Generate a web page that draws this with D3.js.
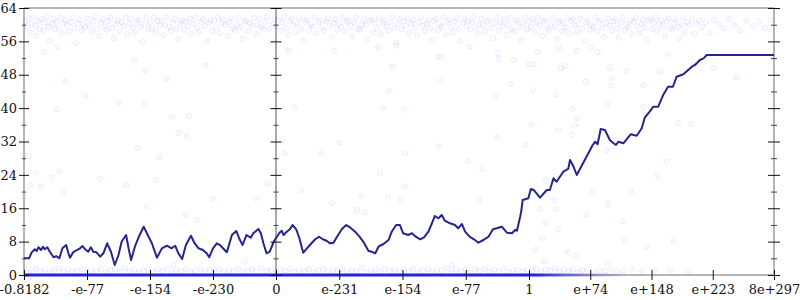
<!DOCTYPE html>
<html>
<head>
<meta charset="utf-8">
<script src="https://cdn.jsdelivr.net/npm/d3@7"></script>
<style>
  body { margin: 0; background: #fff; }
  text { font-family: "DejaVu Serif", serif; font-size: 13px; fill: #111; }
</style>
</head>
<body>
<div id="chart"></div>
<script>
// Tick positions (in tick index units) and their labels
var xTickPos = [0, 1, 2, 3, 4, 5, 6, 7, 8, 9, 10, 11, 12];
var xTickLabels = ["-0.8182", "-e-77", "-e-154", "-e-230", "0", "e-231", "e-154", "e-77", "1", "e+74", "e+148", "e+223", "8e+297"];
var yTicks = [0, 8, 16, 24, 32, 40, 48, 56, 64];
var yMinorTicks = [4, 12, 20, 28, 36, 44, 52, 60];

// The dark running line
var walkPoints = [
  [0.00,4.0],[0.03,4.0],[0.08,4.0],[0.12,5.35],[0.17,6.16],[0.20,5.75],[0.23,6.64],[0.27,5.99],[0.30,6.78],[0.33,6.16],
  [0.37,6.64],[0.41,5.58],[0.47,4.24],[0.51,4.55],[0.56,4.0],[0.61,6.4],[0.67,7.19],[0.70,5.44],[0.73,4.15],[0.78,5.44],
  [0.84,5.99],[0.89,6.4],[0.93,6.95],[0.97,6.16],[1.02,5.58],[1.06,6.64],[1.10,5.58],[1.15,5.44],[1.21,4.39],[1.26,5.2],
  [1.32,7.6],[1.38,5.58],[1.44,2.4],[1.50,4.79],[1.55,7.98],[1.62,9.59],[1.66,6.4],[1.70,3.6],[1.76,6.78],[1.83,9.42],
  [1.90,11.58],[1.97,9.42],[2.03,7.6],[2.11,4.15],[2.19,6.4],[2.27,7.02],[2.34,6.4],[2.40,7.02],[2.45,5.2],[2.51,3.84],
  [2.57,7.19],[2.65,9.42],[2.70,7.84],[2.77,6.4],[2.84,5.99],[2.90,5.2],[2.94,4.24],[3.00,6.4],[3.06,7.6],[3.11,7.19],
  [3.17,6.23],[3.22,5.44],[3.30,9.59],[3.37,10.55],[3.42,8.63],[3.47,7.19],[3.53,9.59],[3.60,8.94],[3.64,10.0],[3.72,11.03],
  [3.76,10.0],[3.80,7.6],[3.85,5.2],[3.90,5.58],[3.97,8.15],[4.05,10.0],[4.09,10.62],[4.12,9.59],[4.17,10.38],[4.22,10.95],
  [4.26,11.98],[4.32,10.95],[4.37,8.8],[4.43,5.35],[4.49,6.4],[4.55,7.43],[4.62,8.56],[4.68,9.18],[4.74,8.56],[4.80,8.22],
  [4.85,7.6],[4.91,7.74],[4.96,9.04],[5.04,10.95],[5.11,11.98],[5.17,11.43],[5.25,10.38],[5.32,9.18],[5.39,7.74],[5.46,5.82],
  [5.51,5.58],[5.57,5.2],[5.62,6.78],[5.70,7.43],[5.78,8.39],[5.83,10.38],[5.90,11.98],[5.96,11.98],[6.01,10.0],[6.09,9.59],
  [6.15,10.0],[6.21,9.18],[6.28,8.56],[6.34,9.04],[6.41,10.38],[6.46,12.22],[6.51,14.14],[6.57,13.59],[6.62,14.38],[6.67,13.02],
  [6.75,12.39],[6.83,11.98],[6.88,11.19],[6.94,12.22],[6.99,10.38],[7.06,9.18],[7.13,8.56],[7.20,7.74],[7.28,8.39],[7.36,9.18],
  [7.43,10.95],[7.49,11.19],[7.57,11.58],[7.65,10.14],[7.73,10.0],[7.78,10.79],[7.81,10.62],[7.86,13.97],[7.88,15.58],[7.90,17.98],
  [7.99,18.38],[8.03,20.61],[8.08,20.37],[8.18,18.53],[8.29,20.37],[8.34,20.37],[8.40,23.18],[8.45,22.36],[8.56,24.76],[8.64,25.41],
  [8.67,27.56],[8.72,26.2],[8.78,23.97],[8.91,27.56],[9.04,31.16],[9.08,31.95],[9.12,31.33],[9.17,35.0],[9.24,34.76],[9.32,32.36],
  [9.38,31.57],[9.42,31.16],[9.46,31.95],[9.54,31.57],[9.66,33.73],[9.76,33.39],[9.84,35.16],[9.89,37.7],[9.97,39.14],[10.03,40.34],
  [10.11,40.34],[10.19,43.14],[10.27,45.13],[10.35,45.13],[10.41,47.53],[10.52,48.11],[10.66,49.93],[10.71,50.34],[10.79,51.53],[10.85,51.94],
  [10.90,52.73],[12.00,52.73]
];

// Faint scattered samples: the dense band near the top
var topCloud = [
  [0.02,60.8],[0.05,59.3],[0.07,61.6],[0.10,58.1],[0.12,60.2],[0.15,61.9],[0.18,59.7],[0.20,57.4],[0.23,60.9],[0.25,59.0],[0.28,61.3],[0.31,58.7],
  [0.33,60.5],[0.36,62.0],[0.39,59.5],[0.41,56.2],[0.44,60.1],[0.47,61.4],[0.49,58.9],[0.52,60.7],[0.55,59.2],[0.58,61.8],[0.60,57.9],[0.63,60.4],
  [0.66,61.1],[0.69,59.8],[0.71,58.4],[0.74,60.6],[0.77,61.7],[0.80,59.1],[0.82,55.6],[0.85,60.3],[0.88,61.2],[0.91,58.6],[0.94,60.0],[0.97,59.4],
  [1.01,61.5],[1.04,59.9],[1.07,58.3],[1.10,60.8],[1.13,61.9],[1.16,59.0],[1.19,57.2],[1.22,60.5],[1.25,61.3],[1.28,59.6],[1.31,58.8],[1.34,60.9],
  [1.37,61.6],[1.40,59.2],[1.43,56.8],[1.46,60.2],[1.49,61.0],[1.52,58.5],[1.55,60.6],[1.58,59.7],[1.61,61.8],[1.64,57.7],[1.67,60.3],[1.70,61.4],
  [1.73,59.3],[1.76,58.0],[1.79,60.7],[1.82,61.1],[1.85,59.5],[1.88,55.9],[1.91,60.1],[1.94,61.7],[1.97,58.9],
  [2.00,60.4],[2.03,59.1],[2.06,61.6],[2.09,58.2],[2.12,60.9],[2.15,59.8],[2.18,61.2],[2.21,57.5],[2.24,60.0],[2.27,61.8],[2.30,59.4],[2.33,58.6],
  [2.36,60.6],[2.39,61.4],[2.42,59.0],[2.45,56.5],[2.48,60.3],[2.51,61.0],[2.54,58.8],[2.57,60.8],[2.60,59.6],[2.63,61.5],[2.66,57.9],[2.69,60.2],
  [2.72,61.9],[2.75,59.2],[2.78,58.3],[2.81,60.7],[2.84,61.3],[2.87,59.7],[2.90,56.0],[2.93,60.5],[2.96,61.1],[2.99,58.5],
  [3.02,60.9],[3.05,59.3],[3.08,61.7],[3.11,58.0],[3.14,60.4],[3.17,61.2],[3.20,59.9],[3.23,57.3],[3.26,60.6],[3.29,61.5],[3.32,59.1],[3.35,58.7],
  [3.38,60.1],[3.41,61.8],[3.44,59.5],[3.47,56.7],[3.50,60.8],[3.53,61.0],[3.56,58.4],[3.59,60.3],[3.62,59.7],[3.65,61.6],[3.68,57.8],[3.71,60.0],
  [3.74,61.3],[3.77,59.4],[3.80,58.9],[3.83,60.7],[3.86,61.9],[3.89,59.0],[3.92,55.8],[3.95,60.2],[3.98,61.4],
  [4.01,59.6],[4.04,61.1],[4.07,58.6],[4.10,60.5],[4.13,61.8],[4.16,59.2],[4.19,57.6],[4.22,60.9],[4.25,61.4],[4.28,59.8],[4.31,58.1],[4.34,60.3],
  [4.37,61.6],[4.40,59.0],[4.43,56.3],[4.46,60.7],[4.49,61.2],[4.52,58.7],[4.55,60.1],[4.58,59.5],[4.61,61.9],[4.64,57.9],[4.67,60.6],[4.70,61.0],
  [4.73,59.3],[4.76,58.5],[4.79,60.8],[4.82,61.5],[4.85,59.7],[4.88,56.9],[4.91,60.4],[4.94,61.3],[4.97,58.8],
  [5.00,60.2],[5.03,59.4],[5.06,61.7],[5.09,58.3],[5.12,60.7],[5.15,61.1],[5.18,59.6],[5.21,57.1],[5.24,60.5],[5.27,61.8],[5.30,59.0],[5.33,58.8],
  [5.36,60.0],[5.39,61.4],[5.42,59.9],[5.45,56.6],[5.48,60.9],[5.51,61.2],[5.54,58.2],[5.57,60.4],[5.60,59.1],[5.63,61.6],[5.66,57.7],[5.69,60.3],
  [5.72,61.0],[5.75,59.5],[5.78,58.6],[5.81,60.6],[5.84,61.9],[5.87,59.2],[5.90,55.7],[5.93,60.1],[5.96,61.3],[5.99,58.9],
  [6.02,60.8],[6.05,59.7],[6.08,61.5],[6.11,58.0],[6.14,60.3],[6.17,61.2],[6.20,59.3],[6.23,57.4],[6.26,60.6],[6.29,61.7],[6.32,59.8],[6.35,58.5],
  [6.38,60.2],[6.41,61.0],[6.44,59.1],[6.47,56.4],[6.50,60.9],[6.53,61.4],[6.56,58.7],[6.59,60.0],[6.62,59.5],[6.65,61.8],[6.68,57.6],[6.71,60.5],
  [6.74,61.1],[6.77,59.4],[6.80,58.2],[6.83,60.7],[6.86,61.6],[6.89,59.0],[6.92,56.1],[6.95,60.4],[6.98,61.3],
  [7.01,59.6],[7.04,61.0],[7.07,58.8],[7.10,60.6],[7.13,61.9],[7.16,59.2],[7.19,57.8],[7.22,60.1],[7.25,61.5],[7.28,59.9],[7.31,58.4],[7.34,60.8],
  [7.37,61.2],[7.40,59.3],[7.43,56.8],[7.46,60.3],[7.49,61.7],[7.52,58.6],[7.55,60.5],[7.58,59.7],[7.61,61.3],[7.64,57.5],[7.67,60.0],[7.70,61.6],
  [7.73,59.0],[7.76,58.3],[7.79,60.9],[7.82,61.1],[7.85,59.5],[7.88,56.2],[7.91,60.2],[7.94,61.8],[7.97,58.9],
  [8.00,60.7],[8.03,59.4],[8.06,61.4],[8.09,58.1],[8.12,60.4],[8.15,61.9],[8.18,59.8],[8.21,57.3],[8.24,60.8],[8.27,61.2],[8.30,59.1],[8.33,58.7],
  [8.36,60.1],[8.39,61.6],[8.42,59.6],[8.45,56.5],[8.48,60.6],[8.51,61.0],[8.54,58.5],[8.57,60.3],[8.60,59.3],[8.63,61.7],[8.66,57.9],[8.69,60.9],
  [8.72,61.3],[8.75,59.7],[8.78,58.2],[8.81,60.2],[8.84,61.5],[8.87,59.0],[8.90,55.9],[8.93,60.5],[8.96,61.1],[8.99,58.8],
  [9.02,60.0],[9.05,59.5],[9.08,61.8],[9.11,58.4],[9.14,60.6],[9.17,61.1],[9.20,59.2],[9.23,57.0],[9.26,60.3],[9.29,61.5],[9.32,59.8],[9.35,58.6],
  [9.38,60.8],[9.41,61.3],[9.44,59.1],[9.47,56.9],[9.50,60.4],[9.53,61.7],[9.56,58.7],[9.59,60.1],[9.62,59.4],[9.65,61.0],[9.68,57.7],[9.71,60.7],
  [9.74,61.6],[9.77,59.6],[9.80,58.0],[9.83,60.2],[9.86,61.2],[9.89,59.3],[9.92,56.3],[9.95,60.9],[9.98,61.4],
  [10.01,59.0],[10.04,60.5],[10.07,61.8],[10.10,58.5],[10.13,60.2],[10.16,61.0],[10.19,59.7],[10.22,57.4],[10.25,60.8],[10.28,61.5],[10.31,59.2],
  [10.34,58.9],[10.37,60.4],[10.40,61.2],[10.43,59.5],[10.46,56.7],[10.49,60.0],[10.52,61.6],[10.55,58.3],[10.58,60.7],[10.62,59.9],[10.66,61.3],
  [10.70,57.8],[10.74,60.3],[10.78,61.0],[10.83,59.4],[10.89,60.6],[10.95,58.1],[11.02,61.1],
  [11.10,60.2],[11.18,59.1],[11.27,61.4],[11.36,60.0],[11.45,58.6],[11.55,61.0],[11.66,59.6],[11.76,60.8],[11.85,59.2],[11.95,61.2]
];

// Faint scattered samples in the middle of the range
var midCloud = [
  [0.97,43.0],[1.51,41.4],[1.92,41.1],[0.52,39.8],[2.34,38.0],[2.62,38.2],[2.45,34.0],[2.59,33.2],[1.81,30.4],[0.07,28.5],
  [2.15,28.3],[0.20,24.3],[0.56,25.0],[0.44,23.3],[1.21,23.0],[2.10,22.8],[0.10,21.4],[0.27,21.2],[1.62,21.6],[0.62,19.7],
  [3.88,21.9],[3.00,18.2],[3.68,18.4],[1.75,51.4],[2.88,50.2],[1.92,49.1],[2.27,47.1],[0.65,46.3],[0.32,53.5],[0.52,54.7],
  [4.19,53.8],[4.92,53.8],[5.62,54.5],[5.91,55.0],[7.06,54.7],[7.51,53.1],[7.52,51.8],[7.76,51.5],[8.14,53.5],[6.56,52.3],
  [6.62,52.3],[5.84,49.9],[8.00,50.5],[8.08,50.5],[6.62,46.7],[7.71,45.8],[5.79,44.2],[7.47,42.8],[8.07,44.3],[4.30,40.2],
  [5.69,39.9],[6.03,39.6],[8.03,36.0],[7.49,33.0],[7.95,31.2],[5.00,31.7],[4.14,29.3],[4.71,29.2],[6.04,29.2],[6.57,30.8],
  [7.03,27.3],[7.26,25.5],[5.64,24.4],[6.03,21.2],[4.40,20.3],[8.27,22.6],[4.11,32.5],[8.52,49.5],[8.60,50.1],[8.49,54.5],
  [8.78,53.7],[9.00,54.5],[9.12,53.4],[9.32,49.8],[9.59,48.9],[9.35,47.2],[9.34,45.4],[8.93,46.3],[8.45,43.3],[9.28,40.9],
  [9.87,45.5],[10.14,48.7],[10.26,53.0],[8.71,39.8],[8.78,37.6],[8.74,35.8],[8.48,34.7],[8.70,33.6],[9.87,40.3],[10.43,36.5],
  [10.65,36.2],[9.27,29.9],[10.25,27.2],[10.10,23.8],[9.04,20.0],[9.66,20.1],[8.42,17.9],[9.29,16.9],[8.17,15.8],[8.44,15.8],
  [8.94,14.5],[11.02,49.7],[11.39,47.4],[10.69,50.3],[9.53,12.9],[8.27,12.5],[8.48,11.0],[9.56,8.2],[10.36,8.2],[9.93,6.8],
  [8.65,5.4],[8.77,4.6],[9.28,2.6],[8.25,3.2],[8.22,8.9],[1.95,16.5],[2.56,14.4],[2.74,13.2],[3.51,3.2],[2.37,2.4],
  [4.88,17.2],[5.28,15.6],[5.41,15.0],[5.77,18.5],[5.98,18.0],[5.35,19.0],[4.88,7.8],[4.49,7.2],[7.21,18.0],[8.10,6.0],
  [6.78,2.4],[6.41,10.1],[6.33,10.2]
];

// Faint scattered samples just above zero
var lowCloud = [
  [0.04,1.2],[0.11,0.6],[0.19,1.5],[0.26,0.9],[0.33,1.3],[0.41,0.5],[0.48,1.1],[0.55,1.6],[0.62,0.8],[0.70,1.3],[0.77,0.6],[0.84,1.0],[0.92,1.4],
  [1.00,0.7],[1.07,1.2],[1.15,0.9],[1.22,1.5],[1.30,0.6],[1.37,1.1],[1.45,1.3],[1.52,0.8],[1.60,1.6],[1.67,0.9],[1.75,1.2],[1.82,0.5],[1.90,1.0],[1.97,1.4],
  [2.05,0.8],[2.12,1.3],[2.20,1.0],[2.27,1.6],[2.35,0.6],[2.42,1.2],[2.50,0.9],[2.57,1.4],[2.65,0.7],[2.72,1.1],[2.80,1.5],[2.87,0.8],[2.95,1.2],
  [3.02,1.0],[3.10,1.4],[3.17,0.7],[3.25,1.2],[3.32,0.9],[3.40,1.5],[3.47,0.6],[3.55,1.1],[3.62,1.3],[3.70,0.8],[3.77,1.6],[3.85,1.0],[3.92,1.2],
  [4.00,0.8],[4.07,1.3],[4.15,1.0],[4.22,1.5],[4.30,0.7],[4.37,1.2],[4.45,0.9],[4.52,1.4],[4.60,0.6],[4.67,1.1],[4.75,1.5],[4.82,0.8],[4.90,1.2],[4.97,1.0],
  [5.05,1.4],[5.12,0.7],[5.20,1.2],[5.27,0.9],[5.35,1.6],[5.42,0.6],[5.50,1.1],[5.57,1.3],[5.65,0.8],[5.72,1.5],[5.80,1.0],[5.87,1.2],[5.95,0.7],
  [6.02,1.3],[6.10,0.9],[6.17,1.5],[6.25,0.6],[6.32,1.1],[6.40,1.4],[6.47,0.8],[6.55,1.2],[6.62,1.0],[6.70,1.6],[6.77,0.7],[6.85,1.3],[6.92,0.9],
  [7.00,1.2],[7.07,0.6],[7.15,1.4],[7.22,1.0],[7.30,1.5],[7.37,0.8],[7.45,1.2],[7.52,0.9],[7.60,1.6],[7.67,0.7],[7.75,1.1],[7.82,1.3],[7.90,0.8],[7.97,1.2],
  [8.05,1.0],[8.12,1.5],[8.20,0.7],[8.27,1.3],[8.35,1.0],[8.42,1.6],[8.50,0.8],[8.57,1.2],[8.65,0.9],[8.72,1.4],[8.80,0.6],[8.87,1.1],[8.95,1.3],
  [9.05,0.8],[9.15,1.2],[9.25,0.9],[9.35,1.4],[9.45,0.7],[9.55,1.1],[9.68,1.3],[9.85,0.8],[10.05,1.0],[10.30,1.2],[10.60,0.7]
];

// Samples sitting exactly on zero: run position and how dense they are there
var zeroRunX = [0, 8.1, 8.6, 9.6];
var zeroRunDensity = [1, 1, 0.55, 0];

var svgWidth = 800;
var svgHeight = 300;

// x positions are tick indices; the two halves are spaced a little differently
var x = d3.scaleLinear().domain([0, 4, 8, 12]).range([24, 276, 529, 774]);
var y = d3.scaleLinear().domain([0, 64]).range([275, 8]);

var svg = d3.select("#chart")
            .append("svg")
            .attr("width", svgWidth)
            .attr("height", svgHeight);

// Gray frame and the dark zero divider
var frame = svg.append("g").attr("stroke", "#b5b5b5").attr("stroke-width", 2).attr("fill", "none");
frame.append("line").attr("x1", x(0)).attr("x2", x(12)).attr("y1", y(64)).attr("y2", y(64));
frame.append("line").attr("x1", x(0)).attr("x2", x(12)).attr("y1", y(0)).attr("y2", y(0));
frame.append("line").attr("x1", x(0)).attr("x2", x(0)).attr("y1", y(0)).attr("y2", y(64));
frame.append("line").attr("x1", x(12)).attr("x2", x(12)).attr("y1", y(0)).attr("y2", y(64));
svg.append("line")
   .attr("x1", x(4)).attr("x2", x(4))
   .attr("y1", y(0)).attr("y2", y(64))
   .attr("stroke", "#707070")
   .attr("stroke-width", 1.2);

// Scatter clouds (very faint, they only show where many overlap)
var allDots = topCloud.concat(midCloud, lowCloud);
svg.append("g")
   .selectAll("circle")
   .data(allDots)
   .enter()
   .append("circle")
   .attr("cx", d => x(d[0]))
   .attr("cy", d => y(d[1]))
   .attr("r", 2.7)
   .attr("fill", "#0000ff")
   .attr("fill-opacity", 0.025)
   .attr("stroke", "#0000ff")
   .attr("stroke-opacity", 0.06)
   .attr("stroke-width", 1);

// Zero run, fading out where the samples thin
var grad = svg.append("defs").append("linearGradient")
              .attr("id", "zeroFade")
              .attr("gradientUnits", "userSpaceOnUse")
              .attr("x1", x(0)).attr("x2", x(12)).attr("y1", 0).attr("y2", 0);
grad.selectAll("stop")
    .data(zeroRunX)
    .enter()
    .append("stop")
    .attr("offset", d => (x(d) - x(0)) / (x(12) - x(0)))
    .attr("stop-color", "#2424e0")
    .attr("stop-opacity", (d, i) => zeroRunDensity[i]);
svg.append("line")
   .attr("x1", x(zeroRunX[0]))
   .attr("x2", x(zeroRunX[zeroRunX.length - 1]))
   .attr("y1", y(0)).attr("y2", y(0))
   .attr("stroke", "url(#zeroFade)")
   .attr("stroke-width", 3);

// The running line
var walkLine = d3.line().x(d => x(d[0])).y(d => y(d[1]));
svg.append("path")
   .datum(walkPoints)
   .attr("d", walkLine)
   .attr("fill", "none")
   .attr("stroke", "#25258f")
   .attr("stroke-width", 2)
   .attr("stroke-linejoin", "round");

// Axes: ticks cross their lines, so stretch each tick to both sides
function crossTicks(g, size, colour) {
  g.select(".domain").remove();
  g.selectAll(".tick line").each(function() {
    var t = d3.select(this);
    if (t.attr("x2") !== null && +t.attr("x2") !== 0) t.attr("x1", size);
    if (t.attr("y2") !== null && +t.attr("y2") !== 0) t.attr("y1", -size);
  });
  g.selectAll(".tick line").attr("stroke", colour);
  g.attr("font-family", "DejaVu Serif").attr("font-size", 13);
}

var leftMajor = svg.append("g")
                   .attr("transform", `translate(${x(0)},0)`)
                   .call(d3.axisLeft(y).tickValues(yTicks).tickSize(5).tickPadding(2));
crossTicks(leftMajor, 5, "#111");

var leftMinor = svg.append("g")
                   .attr("transform", `translate(${x(0)},0)`)
                   .call(d3.axisLeft(y).tickValues(yMinorTicks).tickSize(2).tickFormat(""));
crossTicks(leftMinor, 2, "#444");

var midMajor = svg.append("g")
                  .attr("transform", `translate(${x(4)},0)`)
                  .call(d3.axisLeft(y).tickValues(yTicks).tickSize(5.5).tickFormat(""));
crossTicks(midMajor, 5.5, "#111");
var midMinor = svg.append("g")
                  .attr("transform", `translate(${x(4)},0)`)
                  .call(d3.axisLeft(y).tickValues(yMinorTicks).tickSize(2.5).tickFormat(""));
crossTicks(midMinor, 2.5, "#444");

var rightMajor = svg.append("g")
                    .attr("transform", `translate(${x(12)},0)`)
                    .call(d3.axisLeft(y).tickValues(yTicks).tickSize(6).tickFormat(""));
crossTicks(rightMajor, 6, "#111");
var rightMinor = svg.append("g")
                    .attr("transform", `translate(${x(12)},0)`)
                    .call(d3.axisLeft(y).tickValues(yMinorTicks).tickSize(3).tickFormat(""));
crossTicks(rightMinor, 3, "#444");

var bottomAxis = svg.append("g")
                    .attr("transform", `translate(0,${y(0)})`)
                    .call(d3.axisBottom(x)
                            .tickValues(xTickPos)
                            .tickSize(5)
                            .tickPadding(5)
                            .tickFormat((d, i) => xTickLabels[i]));
crossTicks(bottomAxis, 5, "#111");
svg.selectAll(".tick text").attr("fill", "#111");
</script>
</body>
</html>
